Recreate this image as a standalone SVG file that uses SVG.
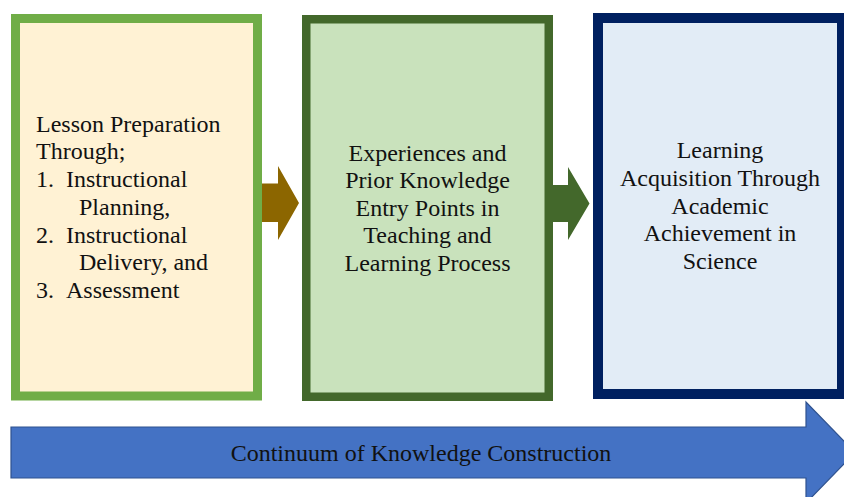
<svg xmlns="http://www.w3.org/2000/svg" width="844" height="497" viewBox="0 0 844 497">
<style>
text{font-family:"Liberation Serif","Times New Roman",serif;font-size:24px;fill:#111}
.c{text-anchor:middle}
</style>
<rect width="844" height="497" fill="#fff"/>
<g id="connectors">
<polygon points="255,183.5 278,183.5 278,166 299,203 278,240 278,222 255,222" fill="#8C6600"/>
<polygon points="548,185 568,185 568,167 589.5,203.5 568,240 568,222 548,222" fill="#43682B"/>
</g>
<g id="node1">
<rect x="15.5" y="18.5" width="242" height="377.5" fill="#FFF2D4" stroke="#70AD47" stroke-width="9"/>
<text x="36" y="131.7">Lesson Preparation</text>
<text x="36" y="159.4">Through;</text>
<text x="36" y="187.1">1.</text><text x="66" y="187.1">Instructional</text>
<text x="79" y="214.8">Planning,</text>
<text x="36" y="242.5">2.</text><text x="66" y="242.5">Instructional</text>
<text x="79" y="270.2">Delivery, and</text>
<text x="36" y="297.9">3.</text><text x="66" y="297.9">Assessment</text>
</g>
<g id="node2">
<rect x="306.25" y="19.25" width="242.5" height="377.5" fill="#C9E2BC" stroke="#43682B" stroke-width="8.5"/>
<text class="c" x="427.5" y="160.7">Experiences and</text>
<text class="c" x="427.5" y="188.2">Prior Knowledge</text>
<text class="c" x="427.5" y="215.6">Entry Points in</text>
<text class="c" x="427.5" y="243.1">Teaching and</text>
<text class="c" x="427.5" y="270.5">Learning Process</text>
</g>
<g id="node3">
<rect x="598" y="18" width="244" height="376" fill="#E2ECF6" stroke="#002060" stroke-width="10"/>
<text class="c" x="720" y="158.3">Learning</text>
<text class="c" x="720" y="186">Acquisition Through</text>
<text class="c" x="720" y="213.6">Academic</text>
<text class="c" x="720" y="241.3">Achievement in</text>
<text class="c" x="720" y="269">Science</text>
</g>
<g id="continuum">
<polygon points="11,427 806,427 806,402 855,452.5 806,503 806,478 11,478" fill="#4472C4" stroke="#2F528F" stroke-width="1.2"/>
<text class="c" x="421" y="460.7">Continuum of Knowledge Construction</text>
</g>
</svg>
